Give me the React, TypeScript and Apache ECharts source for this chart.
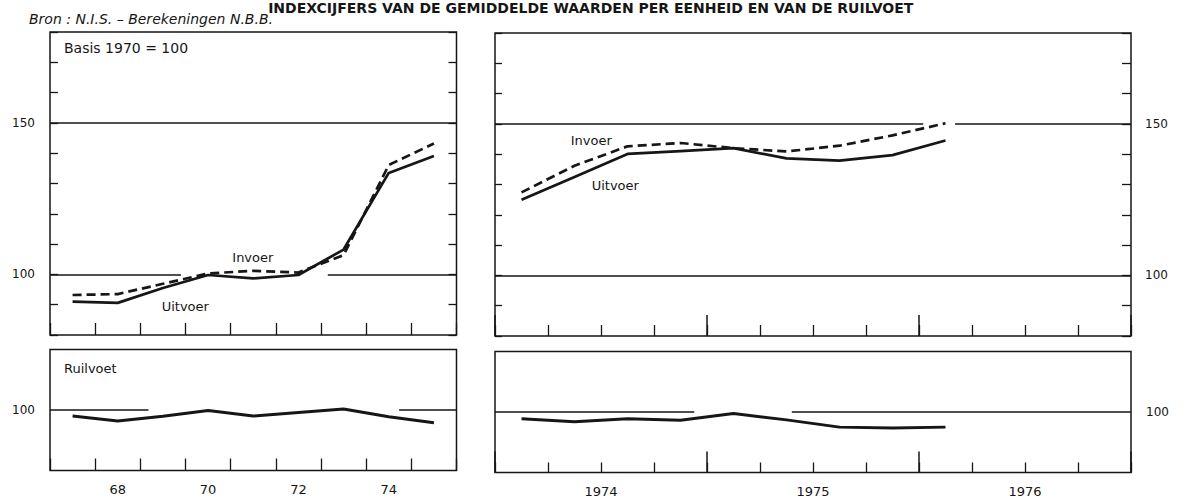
import React, { useEffect, useRef } from 'react';
import * as echarts from 'echarts';

// ---- Data ----
const annualCategories = ['67', '68', '69', '70', '71', '72', '73', '74', '75'];
const annualTickLabels = ['68', '70', '72', '74'];
const annualUitvoer = [91.0, 90.6, 95.5, 99.8, 98.7, 99.8, 108.2, 133.5, 139.1];
const annualInvoer = [93.2, 93.5, 96.9, 100.3, 101.2, 100.6, 106.4, 136.1, 143.2];
const annualRuilvoet = [98.0, 96.4, 97.9, 99.8, 98.0, 99.2, 100.3, 97.8, 95.8];

const quarterCategories = [
  '1974 I', '1974 II', '1974 III', '1974 IV',
  '1975 I', '1975 II', '1975 III', '1975 IV',
  '1976 I', '1976 II', '1976 III', '1976 IV',
];
const yearCategories = ['1974', '1975', '1976'];
const quarterUitvoer = [125.0, 132.5, 140.1, 141.0, 142.0, 138.6, 137.9, 139.7, 144.5];
const quarterInvoer = [127.4, 136.2, 142.6, 143.7, 142.0, 140.9, 142.8, 146.2, 150.2];
const quarterRuilvoet = [97.8, 96.8, 97.8, 97.3, 99.5, 97.4, 95.0, 94.7, 95.0];

const indexLabelValues = [100, 150];
const ruilvoetLabelValues = [100];

// reference lines (level, drawn stretches in axis units)
const leftTopRef100 = [[1966.5, 1969.4], [1972.65, 1975.5]];
const leftTopRef150 = [[1966.5, 1975.5]];
const rightTopRef100 = [[1974, 1977]];
const rightTopRef150 = [[1974, 1976.02], [1976.17, 1977]];
const leftBottomRef100 = [[1966.5, 1968.68], [1974.23, 1975.5]];
const rightBottomRef100 = [[1974, 1974.94], [1975.4, 1977]];

const INK = '#161616';
const FONT = 'DejaVu Sans';

function catX(gridIndex: number, data: string[], tickLen: number, labels: string[] | null, tickWidth = 1.3) {
  return {
    type: 'category',
    gridIndex,
    data,
    position: 'bottom',
    boundaryGap: true,
    axisLine: { show: false },
    splitLine: { show: false },
    axisTick: { show: true, inside: true, length: tickLen, interval: 0, lineStyle: { color: INK, width: tickWidth } },
    axisLabel: labels
      ? {
          show: true,
          interval: (_i: number, v: string) => labels.includes(v),
          margin: 12,
          fontFamily: FONT,
          fontSize: 13,
          color: INK,
        }
      : { show: false },
  };
}

function hiddenX(gridIndex: number, min: number, max: number) {
  return { type: 'value', gridIndex, min, max, show: false };
}

function valY(
  gridIndex: number,
  position: string,
  min: number,
  max: number,
  tickLen: number,
  labels: number[] | null,
  margin: number
) {
  return {
    type: 'value',
    gridIndex,
    position,
    min,
    max,
    interval: 10,
    axisLine: { show: false },
    splitLine: { show: false },
    axisTick: { show: tickLen > 0, inside: true, length: tickLen, lineStyle: { color: INK, width: 1.3 } },
    axisLabel: labels
      ? {
          show: true,
          margin,
          fontFamily: FONT,
          fontSize: 12,
          color: INK,
          formatter: (v: number) => (labels.includes(v) ? String(v) : ''),
        }
      : { show: false },
  };
}

function lineSeries(name: string, xi: number, yi: number, data: number[], dashed: boolean, width: number) {
  return {
    type: 'line',
    name,
    xAxisIndex: xi,
    yAxisIndex: yi,
    data,
    symbol: 'none',
    silent: true,
    z: 5,
    lineStyle: { color: INK, width, type: dashed ? [9, 5] : 'solid', cap: 'butt', join: 'round' },
  };
}

function refSeries(xi: number, yi: number, level: number, segs: number[][]) {
  return {
    type: 'lines',
    coordinateSystem: 'cartesian2d',
    xAxisIndex: xi,
    yAxisIndex: yi,
    silent: true,
    z: 3,
    lineStyle: { color: INK, width: 1.5, opacity: 1 },
    data: segs.map(([a, b]) => ({ coords: [[a, level], [b, level]] })),
  };
}

function label(text: string, x: number, y: number, size: number, extra: any = {}) {
  return {
    type: 'text',
    x,
    y,
    silent: true,
    style: {
      text,
      fill: INK,
      fontFamily: FONT,
      fontSize: size,
      align: extra.align || 'left',
      textAlign: extra.align || 'left',
      verticalAlign: 'middle',
      textVerticalAlign: 'middle',
      fontWeight: extra.fontWeight || 'normal',
      fontStyle: extra.fontStyle || 'normal',
    },
  };
}

const gridBase = { show: true, borderColor: INK, borderWidth: 1.5, backgroundColor: 'transparent', containLabel: false };

const option: any = {
  animation: false,
  backgroundColor: '#ffffff',
  textStyle: { fontFamily: FONT, color: INK },
  grid: [
    { ...gridBase, left: 50, top: 32, width: 406.5, height: 303 },
    { ...gridBase, left: 495, top: 33, width: 636, height: 303 },
    { ...gridBase, left: 50, top: 349.5, width: 406.5, height: 121 },
    { ...gridBase, left: 495, top: 351.5, width: 636, height: 121 },
  ],
  xAxis: [
    catX(0, annualCategories, 12, null), // 0
    hiddenX(0, 1966.5, 1975.5), // 1
    catX(1, quarterCategories, 11, null), // 2
    catX(1, yearCategories, 21, null, 1.5), // 3
    hiddenX(1, 1974, 1977), // 4
    catX(2, annualCategories, 12, annualTickLabels), // 5
    hiddenX(2, 1966.5, 1975.5), // 6
    catX(3, quarterCategories, 10, null), // 7
    catX(3, yearCategories, 21, yearCategories, 1.5), // 8
    hiddenX(3, 1974, 1977), // 9
  ],
  yAxis: [
    valY(0, 'left', 80, 180, 8, indexLabelValues, 15), // 0
    valY(0, 'right', 80, 180, 8, null, 0), // 1
    valY(1, 'left', 80, 180, 7, null, 0), // 2
    valY(1, 'right', 80, 180, 9, indexLabelValues, 14), // 3
    valY(2, 'left', 80, 120, 0, ruilvoetLabelValues, 15), // 4
    valY(3, 'right', 80, 120, 0, ruilvoetLabelValues, 15), // 5
  ],
  series: [
    refSeries(1, 0, 100, leftTopRef100),
    refSeries(1, 0, 150, leftTopRef150),
    lineSeries('Invoer', 0, 0, annualInvoer, true, 2.7),
    lineSeries('Uitvoer', 0, 0, annualUitvoer, false, 2.7),

    refSeries(4, 2, 100, rightTopRef100),
    refSeries(4, 2, 150, rightTopRef150),
    lineSeries('Invoer', 2, 2, quarterInvoer, true, 2.7),
    lineSeries('Uitvoer', 2, 2, quarterUitvoer, false, 2.7),

    refSeries(6, 4, 100, leftBottomRef100),
    lineSeries('Ruilvoet', 5, 4, annualRuilvoet, false, 3),

    refSeries(9, 5, 100, rightBottomRef100),
    lineSeries('Ruilvoet', 7, 5, quarterRuilvoet, false, 3),
  ],
  graphic: [
    label('INDEXCIJFERS VAN DE GEMIDDELDE WAARDEN PER EENHEID EN VAN DE RUILVOET', 590.7, 7.5, 14, {
      align: 'center',
      fontWeight: 'bold',
    }),
    label('Bron : N.I.S. – Berekeningen N.B.B.', 29, 18.6, 14, { fontStyle: 'italic' }),
    label('Basis 1970 = 100', 64, 48.3, 14),
    label('Ruilvoet', 64, 368.3, 13),
    label('Invoer', 232.3, 257.8, 13),
    label('Uitvoer', 161.7, 306.7, 13),
    label('Invoer', 570.7, 140, 13),
    label('Uitvoer', 591.7, 185.7, 13),
  ],
};

export default function App() {
  const ref = useRef<HTMLDivElement>(null);
  useEffect(() => {
    const chart = echarts.init(ref.current as HTMLDivElement, null, { renderer: 'svg' });
    chart.setOption(option);
    return () => chart.dispose();
  }, []);
  return (
    <div
      ref={ref}
      style={{ position: 'fixed', left: 0, top: 0, width: 1196, height: 499, background: '#ffffff' }}
    />
  );
}
